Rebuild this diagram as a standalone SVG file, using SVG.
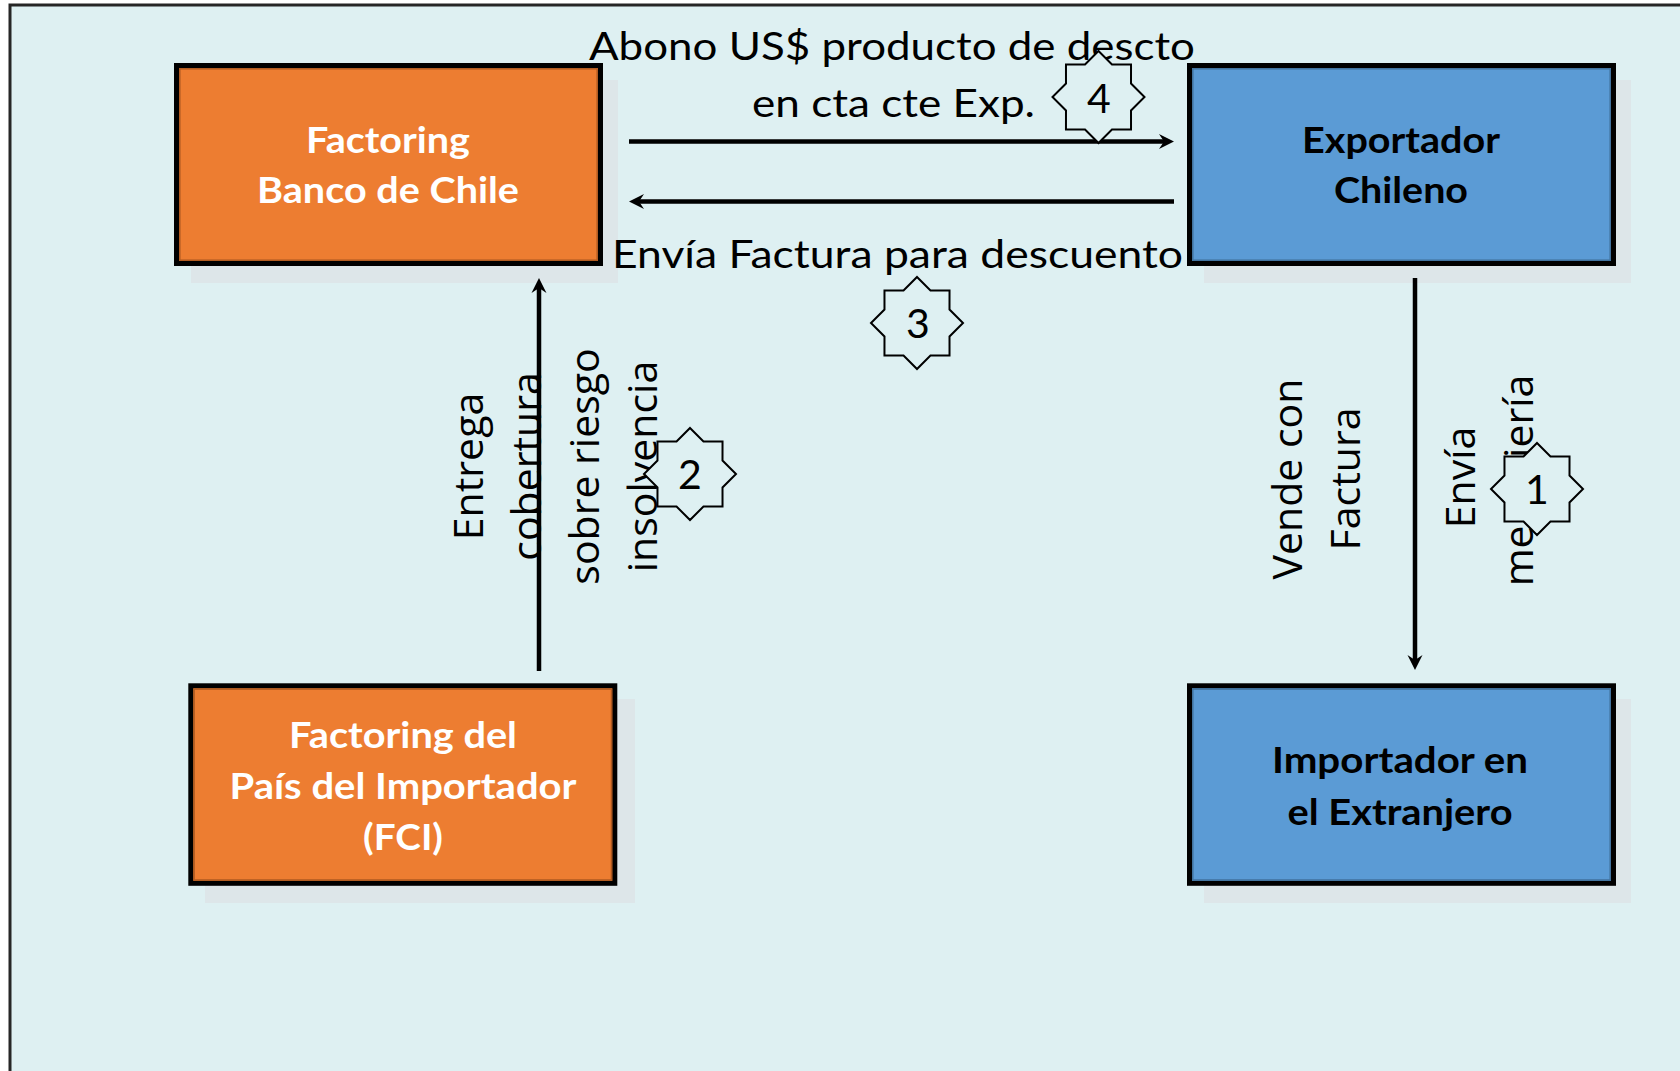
<svg xmlns="http://www.w3.org/2000/svg" xmlns:xlink="http://www.w3.org/1999/xlink" width="1680" height="1071" viewBox="0 0 1680 1071">
<style>
.page{fill:#DEF0F2;stroke:#262626;stroke-width:3}
.shadow{fill:#DDE6E9}
.box{stroke:#000;stroke-width:5}
.orange{fill:#ED7D31}
.blue{fill:#5B9BD5}
.inO{fill:none;stroke:#AE5A21;stroke-width:1.5}
.inB{fill:none;stroke:#41719C;stroke-width:1.5}
.title{font-family:Lato,"Open Sans","Liberation Sans",sans-serif;font-weight:bold;font-size:37px;text-anchor:middle}
.wt{fill:#FFFFFF}
.bk{fill:#000000}
.lbl{font-family:Lato,"Open Sans","Liberation Sans",sans-serif;font-size:39px;fill:#000}
.vlbl{font-family:"Open Sans","Noto Sans","DejaVu Sans",sans-serif;font-size:41px;fill:#000;text-anchor:middle}
.num{font-family:Lato,"Open Sans","Liberation Sans",sans-serif;font-size:41px;fill:#000;text-anchor:middle}
.star{fill:#DEF0F2;stroke:#000;stroke-width:2;stroke-linejoin:miter}
.conn{stroke:#000;stroke-width:4.5;fill:none}
</style>
<defs>
<marker id="ah" markerUnits="userSpaceOnUse" viewBox="-9 -8 17 16" refX="0" refY="0" markerWidth="17" markerHeight="16" orient="auto">
<path d="M7,0 L-8,-7.5 L-3,0 L-8,7.5 Z" fill="#000"/>
</marker>
<polygon id="star" points="0,-46 13.47,-32.51 32.53,-32.53 32.51,-13.47 46,0 32.51,13.47 32.53,32.53 13.47,32.51 0,46 -13.47,32.51 -32.53,32.53 -32.51,13.47 -46,0 -32.51,-13.47 -32.53,-32.53 -13.47,-32.51"/>
</defs>
<rect x="0" y="0" width="1680" height="1071" fill="#FFFFFF"/>
<rect class="page" x="10" y="5" width="1700" height="1100"/>

<g id="node-factoring-banco">
<rect class="shadow" x="191" y="80" width="427" height="203"/>
<rect class="box orange" x="176.5" y="65.5" width="424" height="198"/>
<rect class="inO" x="179.8" y="68.8" width="417.4" height="191.4"/>
<text class="title wt" x="388" y="153" textLength="164" lengthAdjust="spacingAndGlyphs">Factoring</text>
<text class="title wt" x="388" y="203" textLength="262" lengthAdjust="spacingAndGlyphs">Banco de Chile</text>
</g>

<g id="node-exportador">
<rect class="shadow" x="1204" y="80" width="427" height="203"/>
<rect class="box blue" x="1189.5" y="65.5" width="424" height="198"/>
<rect class="inB" x="1192.8" y="68.8" width="417.4" height="191.4"/>
<text class="title bk" x="1401" y="153" textLength="198" lengthAdjust="spacingAndGlyphs">Exportador</text>
<text class="title bk" x="1401" y="203" textLength="134" lengthAdjust="spacingAndGlyphs">Chileno</text>
</g>

<g id="node-fci">
<rect class="shadow" x="205" y="699" width="430" height="204"/>
<rect class="box orange" x="190.8" y="685.8" width="424" height="197.5"/>
<rect class="inO" x="194.1" y="689.1" width="417.4" height="190.9"/>
<text class="title wt" x="403" y="748" textLength="228" lengthAdjust="spacingAndGlyphs">Factoring del</text>
<text class="title wt" x="403" y="799" textLength="347" lengthAdjust="spacingAndGlyphs">País del Importador</text>
<text class="title wt" x="403" y="850" textLength="80" lengthAdjust="spacingAndGlyphs">(FCI)</text>
</g>

<g id="node-importador">
<rect class="shadow" x="1204" y="699" width="427" height="204"/>
<rect class="box blue" x="1189.5" y="685.8" width="424" height="197.5"/>
<rect class="inB" x="1192.8" y="689.1" width="417.4" height="190.9"/>
<text class="title bk" x="1400" y="773" textLength="256" lengthAdjust="spacingAndGlyphs">Importador en</text>
<text class="title bk" x="1400" y="825" textLength="225" lengthAdjust="spacingAndGlyphs">el Extranjero</text>
</g>

<g id="connectors">
<line class="conn" x1="629" y1="141.5" x2="1167" y2="141.5" marker-end="url(#ah)"/>
<line class="conn" x1="1174" y1="201.5" x2="636" y2="201.5" marker-end="url(#ah)"/>
<line class="conn" x1="539" y1="671" x2="539" y2="285" marker-end="url(#ah)"/>
<line class="conn" x1="1415" y1="278" x2="1415" y2="663" marker-end="url(#ah)"/>
</g>

<g id="labels">
<text class="lbl" x="589" y="60" textLength="606" lengthAdjust="spacingAndGlyphs">Abono US$ producto de descto</text>
<text class="lbl" x="752" y="117" textLength="283" lengthAdjust="spacingAndGlyphs">en cta cte Exp.</text>
<text class="lbl" x="612" y="268" textLength="571" lengthAdjust="spacingAndGlyphs">Envía Factura para descuento</text>
<text class="vlbl" transform="translate(483,466.5) rotate(-90)">Entrega</text>
<text class="vlbl" transform="translate(541,466.5) rotate(-90)">cobertura</text>
<text class="vlbl" transform="translate(599,466.5) rotate(-90)">sobre riesgo</text>
<text class="vlbl" transform="translate(657,466.5) rotate(-90)">insolvencia</text>
<text class="vlbl" transform="translate(1302,479) rotate(-90)">Vende con</text>
<text class="vlbl" transform="translate(1360,479) rotate(-90)">Factura</text>
<text class="vlbl" transform="translate(1475,477.5) rotate(-90)">Envía</text>
<text class="vlbl" transform="translate(1533,480.5) rotate(-90)">mensajería</text>
</g>

<g id="step-4">
<use xlink:href="#star" href="#star" class="star" x="1098.5" y="97"/>
<text class="num" x="1099" y="113">4</text>
</g>
<g id="step-3">
<use xlink:href="#star" href="#star" class="star" x="917" y="323"/>
<text class="num" x="918" y="338">3</text>
</g>
<g id="step-2">
<use xlink:href="#star" href="#star" class="star" x="690" y="474"/>
<text class="num" x="690" y="489">2</text>
</g>
<g id="step-1">
<use xlink:href="#star" href="#star" class="star" x="1537" y="489"/>
<text class="num" x="1537" y="504">1</text>
</g>
</svg>
